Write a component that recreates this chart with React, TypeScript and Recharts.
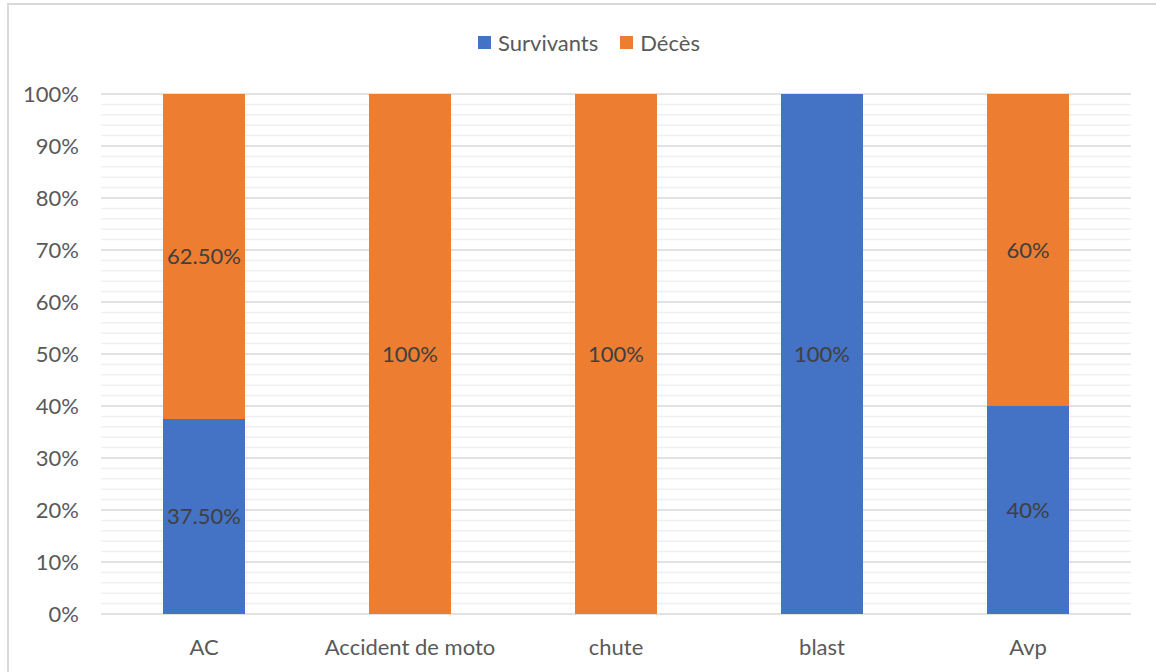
import React from 'react';
import { BarChart, Bar, XAxis, YAxis, CartesianGrid, Legend, LabelList } from 'recharts';

const categories = ['AC', 'Accident de moto', 'chute', 'blast', 'Avp'];
const survivants = [37.5, 0, 0, 100, 40];
const deces = [62.5, 100, 100, 0, 60];
const survivantsLabels = ['37.50%', '', '', '100%', '40%'];
const decesLabels = ['62.50%', '100%', '100%', '', '60%'];
const yTicks = [0, 10, 20, 30, 40, 50, 60, 70, 80, 90, 100];
// minor gridlines every 2%
const minorTicks = [
  0, 2, 4, 6, 8, 10, 12, 14, 16, 18, 20, 22, 24, 26, 28, 30, 32, 34, 36, 38, 40,
  42, 44, 46, 48, 50, 52, 54, 56, 58, 60, 62, 64, 66, 68, 70, 72, 74, 76, 78, 80,
  82, 84, 86, 88, 90, 92, 94, 96, 98, 100,
];

const data = categories.map((name, i) => ({
  name,
  survivants: survivants[i],
  deces: deces[i],
  survivantsLabel: survivantsLabels[i],
  decesLabel: decesLabels[i],
}));

const FONT = 'Lato, "Open Sans", sans-serif';

const renderLegend = (props: any) => {
  const { payload } = props;
  return (
    <div
      style={{
        display: 'flex',
        justifyContent: 'center',
        paddingLeft: 22,
        fontFamily: FONT,
        fontSize: 22,
        color: '#595959',
      }}
    >
      {(payload || []).map((entry: any, i: number) => (
        <div key={entry.value} style={{ display: 'flex', alignItems: 'center', marginLeft: i === 0 ? 0 : 22 }}>
          <span style={{ width: 13, height: 13, background: entry.color, display: 'inline-block', marginRight: 7 }} />
          <span>{entry.value}</span>
        </div>
      ))}
    </div>
  );
};

const gridLine = (props: any) => {
  const { x1, y1, x2, y2, index } = props;
  const major = index % 5 === 0;
  return (
    <line
      key={`grid-${index}`}
      x1={x1}
      y1={y1}
      x2={x2}
      y2={y2}
      stroke={major ? '#d9d9d9' : '#f0f0f0'}
      strokeWidth={1.5}
    />
  );
};

export default function App() {
  return (
    <div style={{ position: 'absolute', left: 0, top: 0, width: 1156, height: 672, overflow: 'hidden', background: '#fff' }}>
      <div
        style={{
          position: 'absolute',
          left: 7,
          top: 3,
          width: 1200,
          height: 720,
          borderLeft: '2px solid #d9d9d9',
          borderTop: '2px solid #d9d9d9',
        }}
      />
      <div style={{ position: 'absolute', left: 0, top: 0 }}>
        <BarChart width={1156} height={672} data={data} margin={{ top: 94, right: 25, left: 0, bottom: 28 }}>
          <CartesianGrid vertical={false} horizontal={gridLine} />
          <XAxis
            dataKey="name"
            height={30}
            axisLine={false}
            tickLine={false}
            tickSize={0}
            tickMargin={25}
            tick={{ fill: '#595959', fontSize: 22, fontFamily: FONT }}
          />
          <YAxis
            width={101}
            domain={[0, 100]}
            ticks={minorTicks}
            interval={0}
            tickFormatter={(v: number) => (yTicks.includes(v) ? `${v}%` : '')}
            axisLine={false}
            tickLine={false}
            tickSize={0}
            tickMargin={22}
            tick={{ fill: '#595959', fontSize: 22, fontFamily: FONT }}
          />
          <Legend
            verticalAlign="middle"
            align="center"
            layout="horizontal"
            itemSorter={null}
            wrapperStyle={{ top: 29, left: 0, width: 1156 }}
            content={renderLegend}
          />
          <Bar dataKey="survivants" name="Survivants" stackId="a" fill="#4472C4" barSize={82} isAnimationActive={false}>
            <LabelList dataKey="survivantsLabel" position="center" fill="#404040" fontSize={22} fontFamily={FONT} />
          </Bar>
          <Bar dataKey="deces" name="Décès" stackId="a" fill="#ED7D31" barSize={82} isAnimationActive={false}>
            <LabelList dataKey="decesLabel" position="center" fill="#404040" fontSize={22} fontFamily={FONT} />
          </Bar>
        </BarChart>
      </div>
    </div>
  );
}
